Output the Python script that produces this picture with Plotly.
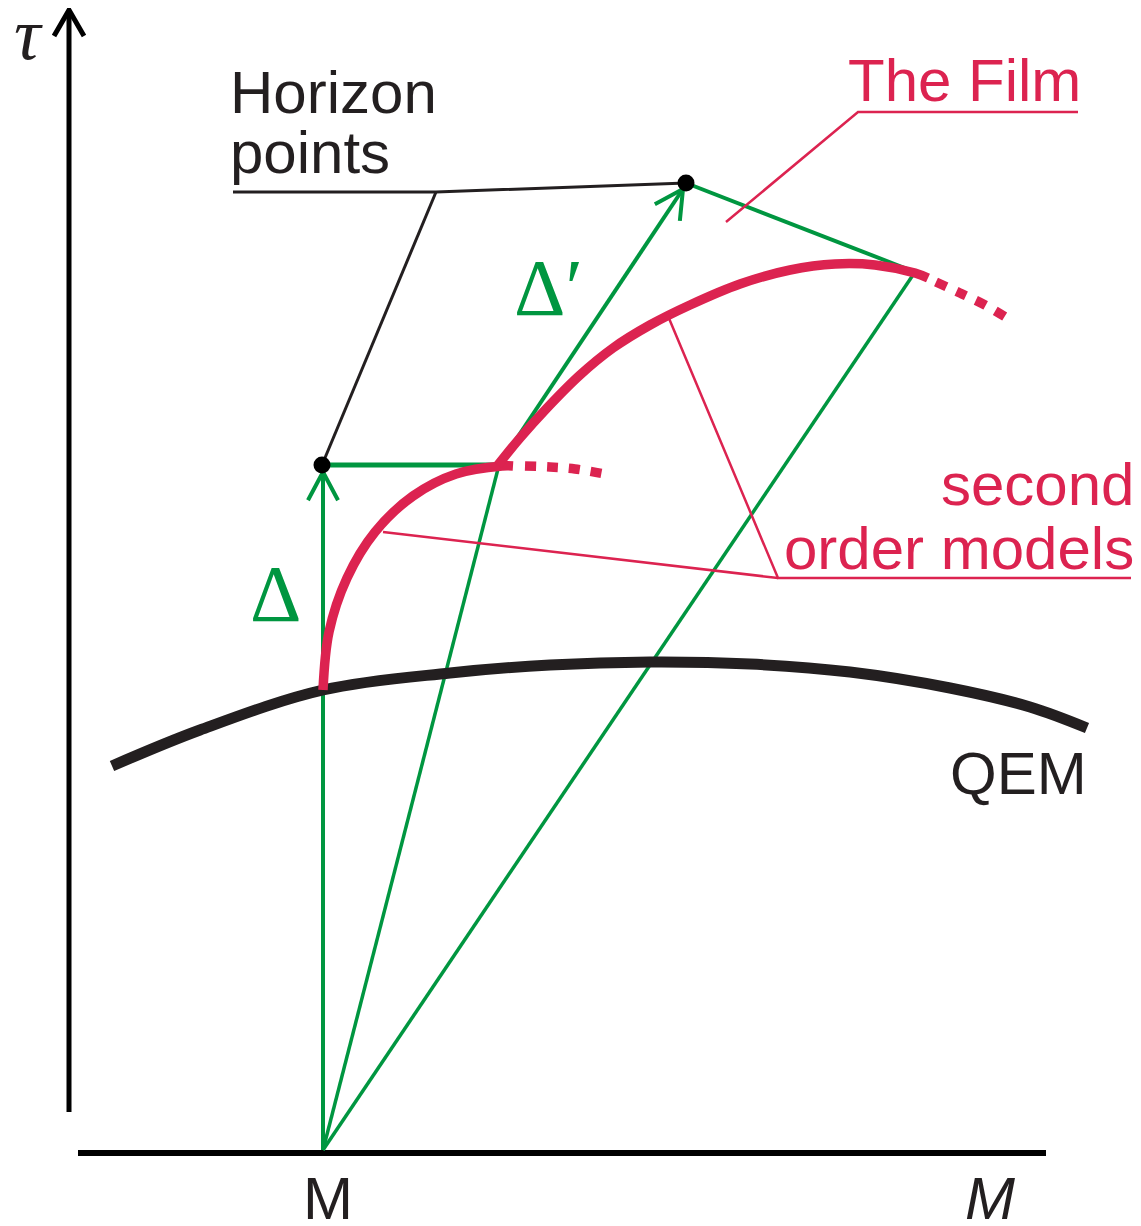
import plotly.graph_objects as go
import math

# ---- diagram data (pixel-space coordinates) ----
W, H = 1141, 1226
PAGE_MARGIN = 8  # default body margin of the page that hosts the figure

tau_axis_x = [69, 69]
tau_axis_y = [1112, 12]
m_axis_x = [78, 1046]
m_axis_y = [1153, 1153]

qem_x = [112, 200, 323, 450, 550, 650, 750, 850, 950, 1030, 1087]
qem_y = [766, 730, 690, 673, 665, 662, 664, 672, 688, 707, 728]

film_low_x = [323, 329, 347, 375, 413, 456, 502, 513]
film_low_y = [690, 632, 578, 532, 496, 474, 466, 466]
film_low_dot_x = [525, 550, 575, 605]
film_low_dot_y = [466, 467, 469, 474]

film_up_x = [498, 520, 547, 580, 613, 650, 690, 740, 790, 835, 875, 915, 928]
film_up_y = [465, 438, 408, 375, 348, 325, 305, 284, 270, 264, 265, 273, 278]
film_up_dot_x = [936, 960, 985, 1012]
film_up_dot_y = [282, 293, 305, 321]

M_point = (323, 1150)
film_junction = (499, 465)
horizon_pts_x = [322, 686]
horizon_pts_y = [465, 183]
film_tangent_pt = (915, 272)

horizon_leader_x = [233, 436, 686]
horizon_leader_y = [192, 192, 183]
horizon_branch_x = [436, 322]
horizon_branch_y = [192, 465]

film_leader_x = [726, 858, 1078]
film_leader_y = [222, 112, 112]

som_leader_x = [668, 778, 1131]
som_leader_y = [316, 578, 578]
som_branch_x = [383, 778]
som_branch_y = [532, 578]

GREEN = "#009640"
RED = "#DC2350"
BLACK = "#231F20"

fig = go.Figure()

def line(xs, ys, color, width, dash=None, shape="linear"):
    fig.add_trace(go.Scatter(x=xs, y=ys, mode="lines",
                             line=dict(color=color, width=width, dash=dash, shape=shape),
                             hoverinfo="skip", showlegend=False))

def arrow_head(x0, y0, x1, y1, color, width, length=32, ang=28):
    dx, dy = x1 - x0, y1 - y0
    n = math.hypot(dx, dy)
    bx, by = -dx / n, -dy / n
    a = math.radians(ang)
    arms = []
    for s in (1, -1):
        rx = bx * math.cos(s * a) - by * math.sin(s * a)
        ry = bx * math.sin(s * a) + by * math.cos(s * a)
        arms.append((x1 + rx * length, y1 + ry * length))
    line([arms[0][0], x1, arms[1][0]], [arms[0][1], y1, arms[1][1]], color, width)

# axes
line(tau_axis_x, tau_axis_y, "black", 5)
arrow_head(69, 60, 69, 10, "black", 5, length=30, ang=30)
line(m_axis_x, m_axis_y, "black", 6)

# green construction lines
line([M_point[0], M_point[0]], [M_point[1], 472], GREEN, 4)
arrow_head(M_point[0], M_point[1], 323, 472, GREEN, 4, length=32, ang=28)
line([horizon_pts_x[0], film_junction[0]], [horizon_pts_y[0], film_junction[1]], GREEN, 5)
line([M_point[0], film_junction[0]], [M_point[1], film_junction[1]], GREEN, 3.5)
line([film_junction[0], 683], [film_junction[1], 189], GREEN, 4)
arrow_head(film_junction[0], film_junction[1], 683, 189, GREEN, 4, length=32, ang=28)
line([M_point[0], film_tangent_pt[0]], [M_point[1], film_tangent_pt[1]], GREEN, 3.5)
line([horizon_pts_x[1], film_tangent_pt[0]], [horizon_pts_y[1], film_tangent_pt[1]], GREEN, 4)

# black leader lines
line(horizon_leader_x, horizon_leader_y, BLACK, 3)
line(horizon_branch_x, horizon_branch_y, BLACK, 3)

# red leader lines
line(film_leader_x, film_leader_y, RED, 2.5)
line(som_leader_x, som_leader_y, RED, 2.5)
line(som_branch_x, som_branch_y, RED, 2.5)

# QEM curve
line(qem_x, qem_y, BLACK, 11, shape="spline")

# film curves
line(film_low_x, film_low_y, RED, 9.5, shape="spline")
line(film_low_dot_x, film_low_dot_y, RED, 9.5, dash="11px,11px", shape="spline")
line(film_up_x, film_up_y, RED, 9.5, shape="spline")
line(film_up_dot_x, film_up_dot_y, RED, 9.5, dash="11px,11px", shape="spline")

# horizon points
fig.add_trace(go.Scatter(x=horizon_pts_x, y=horizon_pts_y, mode="markers",
                         marker=dict(color="black", size=17),
                         hoverinfo="skip", showlegend=False))

SANS = "Liberation Sans, Arial, sans-serif"
SERIF = "Liberation Serif"

def label(text, x, y, size, color, xanchor="left", family=SANS, yanchor="middle"):
    fig.add_annotation(x=x, y=y, text=text, showarrow=False, xanchor=xanchor,
                       yanchor=yanchor, font=dict(family=family, size=size, color=color),
                       xref="x", yref="y")

label("Horizon", 228, 92, 60, BLACK)
label("points", 228, 152, 60, BLACK)
label("The Film", 846, 80, 60, RED)
label("second", 1136, 484, 60, RED, xanchor="right")
label("order models", 1136, 548, 60, RED, xanchor="right")
label("QEM", 948, 773, 60, BLACK)
label("M", 328, 1198, 60, BLACK, xanchor="center")
label("<i>M</i>", 990, 1198, 60, BLACK, xanchor="center")
label("<i>τ</i>", 28, 34, 74, BLACK, xanchor="center", family=SERIF)
label("Δ", 275, 594, 80, GREEN, xanchor="center", family=SERIF)
label("Δ′", 548, 288, 80, GREEN, xanchor="center", family=SERIF)

fig.update_layout(
    width=W - PAGE_MARGIN, height=H - PAGE_MARGIN, autosize=False,
    margin=dict(l=0, r=0, t=0, b=0),
    paper_bgcolor="white", plot_bgcolor="white",
    xaxis=dict(range=[PAGE_MARGIN, W], visible=False, fixedrange=True),
    yaxis=dict(range=[H, PAGE_MARGIN], visible=False, fixedrange=True),
    showlegend=False,
)

fig.write_html("out.html")
